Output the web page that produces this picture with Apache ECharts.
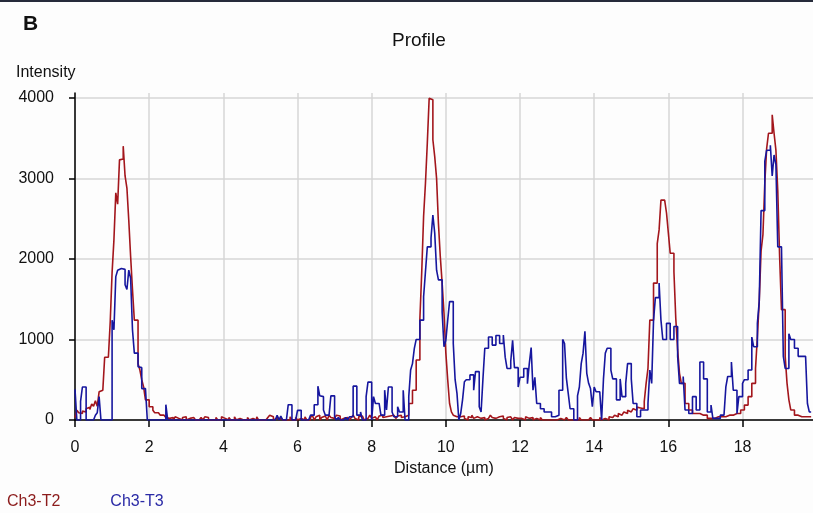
<!DOCTYPE html>
<html>
<head>
<meta charset="utf-8">
<title>Profile</title>
<script src="https://cdn.jsdelivr.net/npm/echarts@6/dist/echarts.min.js"></script>
<style>
html, body { margin: 0; padding: 0; background: #fdfdfd; }
#chart { width: 813px; height: 513px; }
</style>
</head>
<body>
<div id="chart"></div>
<script>
// sample spacing along the line profile (µm)
var STEP = 0.05;
var seriesNames = ['Ch3-T2', 'Ch3-T3'];
var xTicks = [0, 2, 4, 6, 8, 10, 12, 14, 16, 18];
var yTicks = [0, 1000, 2000, 3000, 4000];

// Ch3-T2 intensity, one row per µm
var t2 = [
  30,120,90,80,110,100,140,160,130,200,170,240,170,350,370,360,780,780,800,1220,
  1830,2240,2820,2680,3230,3240,3400,3030,2880,2480,2030,1620,1240,1240,700,620,500,410,250,250,
  165,165,120,90,90,70,60,60,40,30,20,0,30,0,40,20,0,0,30,40,
  0,20,0,30,40,0,0,20,30,0,40,30,0,0,20,0,30,0,0,40,
  20,0,0,30,0,0,40,0,20,30,0,0,0,30,0,20,0,0,40,0,
  0,20,0,0,30,60,40,0,20,50,0,30,0,0,20,0,40,0,0,30,
  0,20,0,0,40,0,0,30,60,0,40,60,0,30,50,40,0,60,30,20,
  40,60,50,0,20,0,30,40,0,30,60,20,0,40,50,30,0,20,40,60,
  20,40,30,0,50,60,30,40,20,50,30,60,40,20,50,60,30,40,60,60,
  205,205,370,370,745,745,1260,1840,2530,2940,3440,3995,3975,3480,3270,3000,2440,2030,1700,1325,
  830,500,205,100,60,40,20,40,30,50,20,0,40,30,60,20,40,30,20,40,
  30,0,20,40,60,30,20,0,40,30,50,20,0,30,40,20,0,30,20,40,
  20,30,0,40,20,0,30,0,20,0,0,30,0,0,20,0,0,0,20,0,
  0,20,0,0,0,30,0,0,20,0,0,0,30,0,0,20,0,0,30,0,
  0,20,0,30,0,20,0,0,40,30,40,60,40,80,60,80,100,80,120,100,
  120,140,120,160,150,140,140,230,455,640,1240,1240,1700,1700,2190,2360,2730,2730,2730,2570,
  2320,2070,2070,1840,1260,870,580,455,455,205,205,125,125,80,80,80,80,60,60,60,
  60,20,20,20,20,40,40,40,40,40,40,40,60,60,60,80,80,80,80,125,
  125,185,185,290,290,455,455,640,1030,1470,2100,2300,2940,3370,3560,3560,3790,3560,3350,2850,
  2030,1370,1370,790,455,250,125,125,60,60,60,40,40,40,40,40,40,40
];

// Ch3-T3 intensity, one row per µm
var t3 = [
  380,0,0,230,410,410,0,0,0,0,0,60,90,290,0,0,0,0,0,0,
  1240,1120,1780,1860,1880,1870,1870,1680,1620,1860,1760,1120,830,830,660,650,390,390,390,0,
  0,0,0,0,0,0,0,0,0,190,0,0,0,0,0,0,0,0,0,0,
  0,0,0,0,0,0,0,0,0,0,0,0,0,0,0,0,0,0,0,0,
  0,0,0,0,0,0,0,0,0,0,0,0,0,0,0,0,0,0,0,0,
  0,0,0,0,0,0,0,0,0,60,0,50,0,0,0,190,190,0,0,0,
  120,120,0,0,0,0,0,60,60,190,190,420,300,290,124,60,60,60,300,300,
  40,0,30,0,0,0,30,0,40,40,420,420,60,60,100,0,0,290,470,470,
  0,290,205,205,205,60,60,370,125,410,410,100,40,40,165,100,100,370,0,0,
  290,620,700,890,1000,1000,1240,1240,1530,1840,2150,2150,2260,2545,2320,1860,1740,1740,1340,910,
  990,1240,1470,1470,950,500,330,0,80,250,475,500,500,560,560,370,600,600,165,100,
  510,890,890,1030,1030,930,930,1050,1050,950,950,1055,780,640,640,730,990,650,650,410,
  530,530,640,640,450,700,900,370,530,205,205,140,140,100,100,100,100,40,40,60,
  60,370,370,1000,950,520,330,140,140,0,0,300,410,700,830,1100,580,455,390,165,
  410,350,350,350,0,510,830,890,890,620,510,510,250,250,510,290,290,455,700,700,
  510,205,205,40,40,125,125,125,125,205,620,455,1240,1520,1520,1700,1240,1000,1000,1200,
  1200,1000,1000,1160,1160,790,455,455,540,125,125,80,80,290,290,125,125,720,720,510,
  510,100,100,185,20,20,20,20,60,60,60,410,540,540,720,370,370,80,290,290,
  455,500,500,620,620,1030,910,910,1200,1470,2600,2600,3210,3350,3350,3410,3030,3290,3170,2150,
  2150,2150,790,640,640,1070,1000,1000,890,890,790,790,790,790,790,205,100,100
];

function toPairs(arr) {
  return arr.map(function (v, i) { return [i * STEP, v]; });
}

var FONT = '"Liberation Sans", Arial, sans-serif';
var RED = '#a3161c';
var BLUE = '#16169e';

var myChart = echarts.init(document.getElementById('chart'));
var option = {
  animation: false,
  backgroundColor: '#fdfdfd',
  textStyle: { fontFamily: FONT },
  grid: { left: 75, right: 0, top: 93, bottom: 93, containLabel: false },
  legend: {
    left: 2,
    top: 494,
    padding: 0,
    icon: 'none',
    itemWidth: 0,
    itemGap: 45,
    selectedMode: false,
    textStyle: { fontSize: 16, fontFamily: FONT, padding: 0 },
    data: [
      { name: seriesNames[0], textStyle: { color: '#8c1c1c' } },
      { name: seriesNames[1], textStyle: { color: '#2a2aa6' } }
    ]
  },
  graphic: [
    { type: 'rect', left: 0, top: 0, shape: { width: 813, height: 2 }, style: { fill: '#262b3a' } },
    { type: 'text', left: 23, top: 14, style: { text: 'B', font: 'bold 21px ' + FONT, fill: '#111' } },
    { type: 'text', left: 392, top: 31, style: { text: 'Profile', font: '19px ' + FONT, fill: '#111' } },
    { type: 'text', left: 16, top: 65, style: { text: 'Intensity', font: '16px ' + FONT, fill: '#111' } }
  ],
  xAxis: {
    type: 'value',
    min: 0,
    max: 19.9,
    interval: 2,
    name: 'Distance (µm)',
    nameLocation: 'middle',
    nameGap: 40,
    nameTextStyle: { fontSize: 16, color: '#111' },
    axisLine: { show: true, onZero: false, lineStyle: { color: '#000', width: 1.5 } },
    axisTick: { show: true, length: 7, lineStyle: { color: '#000', width: 1.5 },
      customValues: xTicks },
    axisLabel: { fontSize: 16, color: '#111', margin: 20,
      customValues: xTicks,
      formatter: function (v) { return xTicks.indexOf(v) >= 0 ? String(v) : ''; } },
    splitLine: { show: true, lineStyle: { color: '#d6d6d6', width: 1.5 } }
  },
  yAxis: {
    type: 'value',
    min: 0,
    max: 4060,
    interval: 1000,
    axisLine: { show: true, lineStyle: { color: '#000', width: 1.5 } },
    axisTick: { show: true, length: 6, lineStyle: { color: '#000', width: 1.5 },
      customValues: yTicks },
    axisLabel: { fontSize: 16, color: '#111', margin: 21,
      customValues: yTicks,
      formatter: function (v) { return yTicks.indexOf(v) >= 0 ? String(v) : ''; } },
    splitLine: { show: true, lineStyle: { color: '#d6d6d6', width: 1.5 } }
  },
  series: [
    {
      name: seriesNames[0],
      type: 'line',
      step: 'end',
      symbol: 'none',
      color: RED,
      lineStyle: { color: RED, width: 1.6 },
      data: toPairs(t2)
    },
    {
      name: seriesNames[1],
      type: 'line',
      step: 'end',
      symbol: 'none',
      color: BLUE,
      lineStyle: { color: BLUE, width: 1.6 },
      data: toPairs(t3)
    }
  ]
};
myChart.setOption(option);
</script>
</body>
</html>
